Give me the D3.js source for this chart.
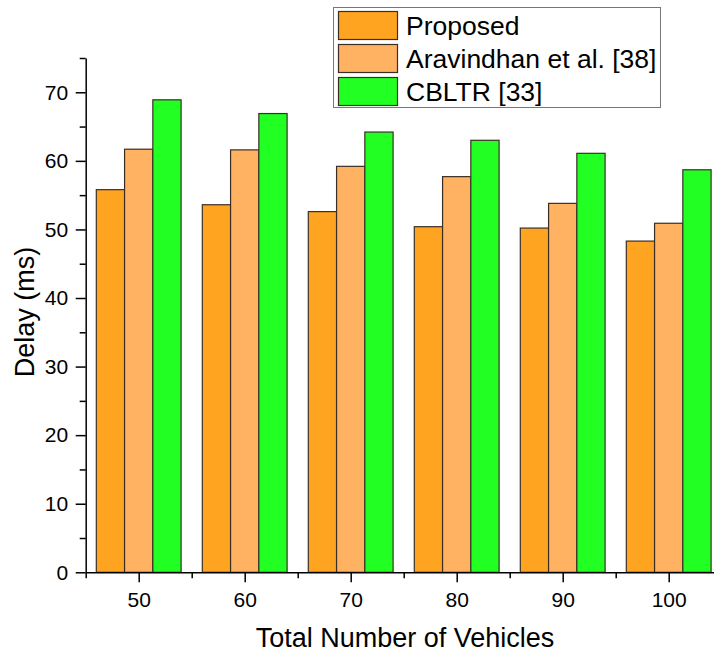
<!DOCTYPE html>
<html>
<head>
<meta charset="utf-8">
<script src="https://cdn.jsdelivr.net/npm/d3@7"></script>
<style>
  html, body { margin: 0; padding: 0; background: #fff; }
  svg { display: block; font-family: "Liberation Sans", Arial, sans-serif; }
</style>
</head>
<body>
<svg id="chart" width="714" height="654"></svg>
<script>
// Vehicle counts on the x axis
const vehicles = [50, 60, 70, 80, 90, 100];
// Delay (ms) per scheme
const proposed   = [55.8, 53.6, 52.6, 50.4, 50.2, 48.3];
const aravindhan = [61.7, 61.6, 59.2, 57.7, 53.8, 50.9];
const cbltr      = [68.9, 66.9, 64.2, 63.0, 61.1, 58.7];
const seriesNames = ["Proposed", "Aravindhan et al. [38]", "CBLTR [33]"];
const seriesColors = ["#FFA421", "#FFB262", "#22FF22"];
const yMajorTicks = [0, 10, 20, 30, 40, 50, 60, 70];
const yMinorTicks = [5, 15, 25, 35, 45, 55, 65, 75];
const xMajorTicks = [50, 60, 70, 80, 90, 100];
const xMinorTicks = [45, 55, 65, 75, 85, 95, 105];

const series = [proposed, aravindhan, cbltr];
const svg = d3.select("#chart");

const x = d3.scaleLinear().domain([45, 105]).range([85.7, 721.7]);
const y = d3.scaleLinear().domain([0, 75]).range([572.3, 58]);

const groupWidth = 8;               // in x-axis units
const barWidth = groupWidth / 3;
const barStroke = "#3b2f25";
const font = "Liberation Sans, Arial, sans-serif";

// Bars
series.forEach((vals, si) => {
  svg.append("g").selectAll("rect")
    .data(vals)
    .join("rect")
    .attr("x", (d, i) => x(vehicles[i] - groupWidth / 2 + si * barWidth))
    .attr("width", x(barWidth) - x(0))
    .attr("y", d => y(d))
    .attr("height", d => y(0) - y(d))
    .attr("fill", seriesColors[si])
    .attr("stroke", barStroke)
    .attr("stroke-width", 1.2);
});

// Y axis: minor ticks, then major ticks with labels
svg.append("g")
  .attr("transform", `translate(${x(45)},0)`)
  .call(d3.axisLeft(y).tickValues(yMinorTicks).tickSize(6).tickSizeOuter(0).tickFormat(""))
  .call(g => g.select(".domain").remove());
const yAxis = svg.append("g")
  .attr("transform", `translate(${x(45)},0)`)
  .call(d3.axisLeft(y).tickValues(yMajorTicks).tickSize(10).tickSizeOuter(0).tickPadding(7.5).tickFormat(d3.format("d")));
yAxis.selectAll("text").attr("font-size", 21).attr("fill", "#000").attr("font-family", font);

// X axis: minor ticks, then major ticks with labels
svg.append("g")
  .attr("transform", `translate(0,${y(0)})`)
  .call(d3.axisBottom(x).tickValues(xMinorTicks).tickSize(6).tickSizeOuter(0).tickFormat(""))
  .call(g => g.select(".domain").remove());
const xAxis = svg.append("g")
  .attr("transform", `translate(0,${y(0)})`)
  .call(d3.axisBottom(x).tickValues(xMajorTicks).tickSize(10).tickSizeOuter(0).tickPadding(10).tickFormat(d3.format("d")));
xAxis.selectAll("text").attr("font-size", 21).attr("fill", "#000").attr("font-family", font);

svg.selectAll(".domain, .tick line").attr("stroke", "#000").attr("stroke-width", 1.5);

// Axis titles
svg.append("text")
  .attr("x", 405).attr("y", 647)
  .attr("text-anchor", "middle")
  .attr("font-size", 27)
  .text("Total Number of Vehicles");
svg.append("text")
  .attr("transform", "translate(34,312) rotate(-90)")
  .attr("text-anchor", "middle")
  .attr("font-size", 27)
  .text("Delay (ms)");

// Legend
const legend = svg.append("g");
legend.append("rect")
  .attr("x", 333.5).attr("y", 7.5).attr("width", 327).attr("height", 100)
  .attr("fill", "#fff").attr("stroke", "#777").attr("stroke-width", 1);
seriesNames.forEach((name, i) => {
  legend.append("rect")
    .attr("x", 338.5).attr("y", 11.5 + i * 33).attr("width", 59).attr("height", 28)
    .attr("fill", seriesColors[i]).attr("stroke", barStroke).attr("stroke-width", 1.2);
  legend.append("text")
    .attr("x", 406).attr("y", 35 + i * 33)
    .attr("font-size", 26.5)
    .text(name);
});
</script>
</body>
</html>
